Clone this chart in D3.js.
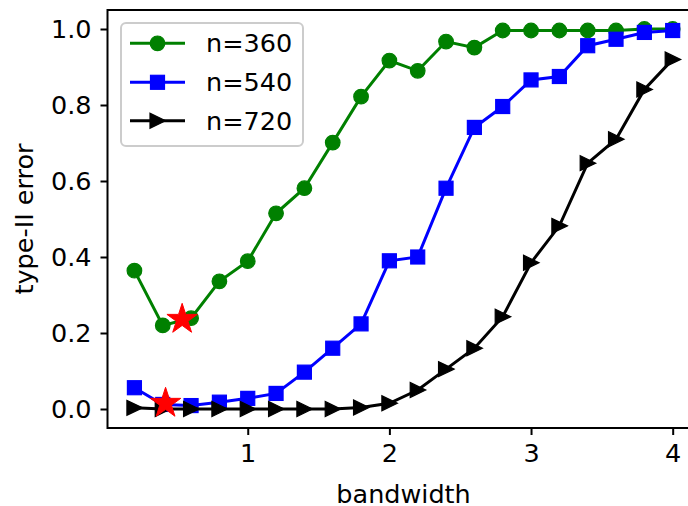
<!DOCTYPE html>
<meta charset="utf-8">
<script src="https://d3js.org/d3.v7.min.js"></script>
<style>
  body { margin: 0; background: #fff; }
  text { font-family: "DejaVu Sans", sans-serif; }
</style>
<div id="chart"></div>
<script>
    // data
    var bandwidth = [0.2, 0.4, 0.6, 0.8, 1.0, 1.2, 1.4, 1.6, 1.8, 2.0,
                     2.2, 2.4, 2.6, 2.8, 3.0, 3.2, 3.4, 3.6, 3.8, 4.0];
    var err360 = [0.364, 0.220, 0.239, 0.336, 0.389, 0.515, 0.581, 0.701, 0.822, 0.917,
                  0.890, 0.967, 0.951, 0.996, 0.996, 0.996, 0.996, 0.996, 1.000, 1.000];
    var err540 = [0.056, 0.012, 0.009, 0.018, 0.028, 0.041, 0.097, 0.160, 0.224, 0.390,
                  0.400, 0.581, 0.741, 0.796, 0.866, 0.875, 0.956, 0.973, 0.991, 0.996];
    var err720 = [0.003, 0.000, 0.000, 0.000, 0.000, 0.000, 0.000, 0.000, 0.004, 0.015,
                  0.050, 0.105, 0.160, 0.243, 0.385, 0.482, 0.647, 0.710, 0.841, 0.920];
    var starX = [0.537, 0.42];
    var starY = [0.236, 0.015];
    var labels = ["n=360", "n=540", "n=720"];
    var colors = ["green", "blue", "black"];
    var xTicks = [1, 2, 3, 4];
    var yTicks = [0.0, 0.2, 0.4, 0.6, 0.8, 1.0];

    var W = 688, H = 506;
    var pl = 107.5, pr = 699.6, pt = 10, pb = 428;
    var fs = "25.5px";

    var svg = d3.select("#chart")
      .append("svg")
        .attr("width", W)
        .attr("height", H);

    var x = d3.scaleLinear().domain([0.01, 4.19]).range([pl, pr]);
    var y = d3.scaleLinear().domain([-0.05, 1.05]).range([pb, pt]);

    // markers
    function marker(g, kind, color) {
      if (kind == "o") {
        g.append("circle").attr("r", 7.3)
          .attr("fill", color).attr("stroke", color).attr("stroke-width", 1.2);
      } else if (kind == "s") {
        g.append("rect").attr("x", -7).attr("y", -7).attr("width", 14).attr("height", 14)
          .attr("fill", color).attr("stroke", color).attr("stroke-width", 1.2);
      } else if (kind == ">") {
        g.append("path").attr("d", "M8,0L-7.5,7.5L-7.5,-7.5Z")
          .attr("fill", color).attr("stroke", color).attr("stroke-width", 1.2);
      } else if (kind == "*") {
        var pts = [];
        for (var i = 0; i < 10; i++) {
          var r = i % 2 == 0 ? 16 : 16 * 0.381966;
          var a = -Math.PI / 2 + i * Math.PI / 5;
          pts.push([r * Math.cos(a), r * Math.sin(a)]);
        }
        g.append("path").attr("d", "M" + pts.join("L") + "Z")
          .attr("fill", color).attr("stroke", color).attr("stroke-width", 1);
      }
    }

    var series = [
      {name: labels[0], vals: err360, color: colors[0], m: "o"},
      {name: labels[1], vals: err540, color: colors[1], m: "s"},
      {name: labels[2], vals: err720, color: colors[2], m: ">"}
    ];

    var line = d3.line()
      .x(function(d) { return x(d[0]); })
      .y(function(d) { return y(d[1]); });

    series.forEach(function(s) {
      var pts = bandwidth.map(function(b, i) { return [b, s.vals[i]]; });
      svg.append("path")
        .datum(pts)
        .attr("d", line)
        .attr("fill", "none")
        .attr("stroke", s.color)
        .attr("stroke-width", 3);
      pts.forEach(function(p) {
        var g = svg.append("g").attr("transform", "translate(" + x(p[0]) + "," + y(p[1]) + ")");
        marker(g, s.m, s.color);
      });
    });

    // chosen bandwidths
    starX.forEach(function(sx, i) {
      var g = svg.append("g").attr("transform", "translate(" + x(sx) + "," + y(starY[i]) + ")");
      marker(g, "*", "red");
    });

    // axes
    var xAxis = svg.append("g")
      .attr("transform", "translate(0," + pb + ")")
      .call(d3.axisBottom(x).tickValues(xTicks).tickFormat(d3.format("d")).tickSize(7).tickSizeOuter(0).tickPadding(9));
    var yAxis = svg.append("g")
      .attr("transform", "translate(" + pl + ",0)")
      .call(d3.axisLeft(y).tickValues(yTicks).tickFormat(d3.format(".1f")).tickSize(7).tickSizeOuter(0).tickPadding(9));
    [xAxis, yAxis].forEach(function(a) {
      a.select(".domain").remove();
      a.selectAll("line").attr("stroke", "#000").attr("stroke-width", 2);
      a.selectAll("text").attr("fill", "#000").style("font-size", fs)
        .style("font-family", "DejaVu Sans");
    });

    // frame
    svg.append("rect")
      .attr("x", pl).attr("y", pt)
      .attr("width", pr - pl).attr("height", pb - pt)
      .attr("fill", "none").attr("stroke", "#000").attr("stroke-width", 2);

    svg.append("text")
      .attr("x", (pl + pr) / 2).attr("y", 503)
      .attr("text-anchor", "middle")
      .style("font-size", fs)
      .text("bandwidth");
    svg.append("text")
      .attr("transform", "translate(33," + (pt + pb) / 2 + ")rotate(-90)")
      .attr("text-anchor", "middle")
      .style("font-size", fs)
      .text("type-II error");

    // legend
    var leg = svg.append("g");
    leg.append("rect")
      .attr("x", 121).attr("y", 23).attr("width", 182).attr("height", 123)
      .attr("rx", 5)
      .attr("fill", "#fff").attr("fill-opacity", 0.8)
      .attr("stroke", "#cccccc").attr("stroke-width", 2);
    var rowY = [43.3, 82.3, 120.7];
    series.forEach(function(s, i) {
      leg.append("line")
        .attr("x1", 130).attr("x2", 185).attr("y1", rowY[i]).attr("y2", rowY[i])
        .attr("stroke", s.color).attr("stroke-width", 3);
      var g = leg.append("g").attr("transform", "translate(157.5," + rowY[i] + ")");
      marker(g, s.m, s.color);
      leg.append("text")
        .attr("x", 206).attr("y", rowY[i] + 9)
        .style("font-size", fs)
        .text(s.name);
    });
</script>
